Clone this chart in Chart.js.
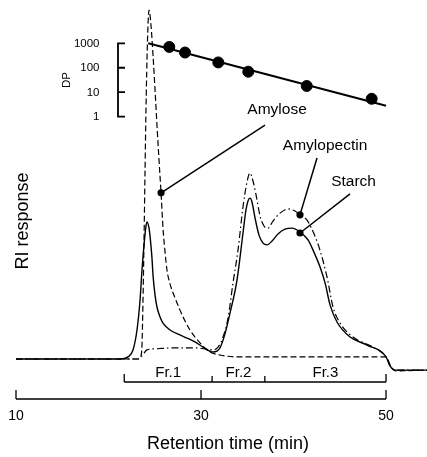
<!DOCTYPE html>
<html>
<head>
<meta charset="utf-8">
<script src="https://cdn.jsdelivr.net/npm/chart.js"></script>
<style>
  body { margin: 0; background: #fff; }
  #wrap { width: 427px; height: 457px; }
</style>
</head>
<body>
<div id="wrap"><canvas id="chart" width="427" height="457"></canvas></div>
<script>
// Starch (solid) - retention time (min) / RI response (arb.)
const starchTime = [10, 21.24, 22.11, 22.65, 23.08, 23.41, 23.62, 23.84, 24.05, 24.16, 24.38, 24.49, 24.7, 24.81, 25.03, 25.24, 25.57, 25.89, 26.65, 27.73, 28.49, 29.35, 30.22, 31.3, 32.05, 32.59, 33.14, 33.89, 34.54, 34.86, 35.08, 35.3, 35.51, 35.84, 36.27, 36.7, 37.14, 37.68, 38.32, 39.08, 39.84, 40.7, 41.57, 42.11, 42.86, 43.41, 43.95, 44.7, 46.11, 47.95, 50.0, 50.43, 50.97, 54.43];
const starchRI = [0, 0, 0.6, 2.6, 8.3, 16.9, 25.5, 32.7, 38.1, 39.3, 37.5, 35.2, 28.9, 24.1, 18.3, 14.9, 12.0, 10.3, 8.3, 6.9, 6.0, 4.9, 3.4, 2.0, 3.2, 7.2, 13.2, 22.6, 36.1, 42.7, 45.3, 46.1, 45.0, 40.4, 35.5, 33.2, 32.7, 33.8, 35.8, 37.2, 37.5, 36.4, 34.1, 31.2, 26.4, 21.8, 15.5, 10.6, 6.3, 4.0, 0.6, -2.0, -3.2, -3.2];

// Amylopectin (dash-dot)
const apTime = [10, 23.19, 23.62, 24.16, 25.03, 27.19, 29.35, 30.43, 31.3, 31.84, 32.38, 32.92, 33.46, 34.0, 34.54, 34.97, 35.3, 35.62, 35.95, 36.38, 36.81, 37.24, 37.78, 38.54, 39.41, 40.16, 40.7, 41.46, 42.32, 42.86, 43.62, 44.27, 45.03, 46.43, 48.59, 50.0, 50.54, 51.08, 54.43];
const apRI = [0, 0, 0.9, 2.6, 2.9, 3.2, 3.2, 2.9, 2.6, 3.4, 6.3, 11.7, 21.8, 31.2, 43.6, 50.7, 53.3, 51.0, 47.0, 41.0, 38.1, 37.5, 39.5, 41.8, 43.0, 42.4, 41.3, 39.8, 35.2, 31.2, 23.5, 14.9, 10.3, 6.3, 3.4, 0.6, -2.3, -3.2, -3.2];

// Amylose (dashed)
const amyTime = [10, 23.19, 23.51, 23.62, 23.73, 23.84, 23.95, 24.05, 24.16, 24.27, 24.38, 24.59, 24.81, 25.03, 25.24, 25.46, 25.68, 25.89, 26.11, 26.32, 26.65, 27.19, 27.73, 28.27, 28.81, 29.89, 30.97, 32.05, 33.89, 40.7, 50.0, 50.54, 51.08, 54.43];
const amyRI = [0, 0, 0.9, 4.0, 16.9, 34.1, 54.2, 71.3, 85.7, 95.7, 100, 95.7, 87.1, 77.1, 67.0, 57.0, 47.6, 37.5, 30.7, 25.5, 21.5, 17.5, 14.0, 10.9, 8.3, 4.6, 2.0, 1.15, 0.6, 0.6, 0.6, -2.3, -3.4, -3.2];

// DP calibration (inset)
const dpTime = [26.57, 28.27, 31.87, 35.11, 41.43, 48.45];
const dpValues = [708, 419, 165, 69, 18, 5.4];
const dpFitTime = [24.3, 50];
const dpFit = [1000, 2.8];
const dpTicks = [1, 10, 100, 1000];

// axes and fractions
const timeTicks = [10, 30, 50];
const frEdges = [21.7, 31.2, 36.9, 50];
const frLabels = ['Fr.1', 'Fr.2', 'Fr.3'];

// call-outs
const calloutNames = ['Amylose', 'Amylopectin', 'Starch'];
const calloutTime = [25.68, 40.7, 40.7];
const calloutRI = [47.6, 41.3, 36.1];
const calloutEndTime = [36.92, 42.54, 46.11];
const calloutEndRI = [67.0, 57.6, 47.3];
const calloutTextTime = [38.22, 43.41, 46.49];
const calloutTextRI = [71.3, 61.0, 50.7];

const FONT = '"Liberation Sans", Arial, Helvetica, sans-serif';

function pts(xs, ys) {
    return xs.map((t, i) => ({ x: t, y: ys[i] }));
}

const overlay = {
    id: 'overlay',
    afterDatasetsDraw(chart) {
        const ctx = chart.ctx;
        const xs = chart.scales.x;
        const ys = chart.scales.y;
        const dps = chart.scales.yDP;
        ctx.save();
        ctx.strokeStyle = '#000';
        ctx.fillStyle = '#000';
        ctx.lineWidth = 1.3;

        // time axis (bracket style, ticks up)
        const axY = 399;
        ctx.beginPath();
        ctx.moveTo(xs.getPixelForValue(timeTicks[0]), axY);
        ctx.lineTo(xs.getPixelForValue(timeTicks[timeTicks.length - 1]), axY);
        timeTicks.forEach(t => {
            const px = xs.getPixelForValue(t);
            ctx.moveTo(px, axY);
            ctx.lineTo(px, axY - 9);
        });
        ctx.stroke();
        ctx.font = '14px ' + FONT;
        ctx.textAlign = 'center';
        ctx.textBaseline = 'middle';
        timeTicks.forEach(t => {
            ctx.fillText(String(t), xs.getPixelForValue(t), 416);
        });

        // fractions
        const frY = 382;
        ctx.beginPath();
        ctx.moveTo(xs.getPixelForValue(frEdges[0]), frY);
        ctx.lineTo(xs.getPixelForValue(frEdges[frEdges.length - 1]), frY);
        frEdges.forEach((t, i) => {
            const px = xs.getPixelForValue(t);
            const h = (i === 0 || i === frEdges.length - 1) ? 8 : 6;
            ctx.moveTo(px, frY);
            ctx.lineTo(px, frY - h);
        });
        ctx.stroke();
        ctx.font = '15px ' + FONT;
        frLabels.forEach((lab, i) => {
            const mid = (xs.getPixelForValue(frEdges[i]) + xs.getPixelForValue(frEdges[i + 1])) / 2;
            ctx.fillText(lab, mid, 373);
        });

        // DP inset axis
        const dpX = 118;
        ctx.lineWidth = 1.8;
        ctx.beginPath();
        ctx.moveTo(dpX, dps.getPixelForValue(dpTicks[0]));
        ctx.lineTo(dpX, dps.getPixelForValue(dpTicks[dpTicks.length - 1]));
        dpTicks.forEach(v => {
            const py = dps.getPixelForValue(v);
            ctx.moveTo(dpX - 0.9, py);
            ctx.lineTo(dpX + 7, py);
        });
        ctx.stroke();
        ctx.font = '11.5px ' + FONT;
        ctx.textAlign = 'right';
        dpTicks.forEach(v => {
            ctx.fillText(String(v), 99.5, dps.getPixelForValue(v) + 0.5);
        });
        ctx.save();
        ctx.translate(67, 80);
        ctx.rotate(-Math.PI / 2);
        ctx.textAlign = 'center';
        ctx.fillText('DP', 0, 0);
        ctx.restore();

        // call-outs
        ctx.lineWidth = 1.5;
        ctx.font = '15.5px ' + FONT;
        ctx.textAlign = 'center';
        calloutNames.forEach((name, i) => {
            const px = xs.getPixelForValue(calloutTime[i]);
            const py = ys.getPixelForValue(calloutRI[i]);
            const ex = xs.getPixelForValue(calloutEndTime[i]);
            const ey = ys.getPixelForValue(calloutEndRI[i]);
            ctx.beginPath();
            ctx.moveTo(px, py);
            ctx.lineTo(ex, ey);
            ctx.stroke();
            ctx.beginPath();
            ctx.arc(px, py, 3.6, 0, Math.PI * 2);
            ctx.fill();
            ctx.fillText(name, xs.getPixelForValue(calloutTextTime[i]), ys.getPixelForValue(calloutTextRI[i]));
        });

        // axis titles
        ctx.font = '18px ' + FONT;
        ctx.fillText('Retention time (min)', 228, 444);
        ctx.save();
        ctx.translate(23, 221);
        ctx.rotate(-Math.PI / 2);
        ctx.font = '18px ' + FONT;
        ctx.fillText('RI response', 0, 0);
        ctx.restore();

        ctx.restore();
    }
};

new Chart(document.getElementById('chart'), {
    type: 'scatter',
    data: {
        datasets: [
            {
                label: 'Starch',
                data: pts(starchTime, starchRI),
                showLine: true,
                borderColor: '#000',
                borderWidth: 1.4,
                pointRadius: 0,
                cubicInterpolationMode: 'monotone',
                clip: false
            },
            {
                label: 'Amylopectin',
                data: pts(apTime, apRI),
                showLine: true,
                borderColor: '#000',
                borderWidth: 1.2,
                borderDash: [7, 3, 1.5, 3],
                pointRadius: 0,
                cubicInterpolationMode: 'monotone',
                clip: false
            },
            {
                label: 'Amylose',
                data: pts(amyTime, amyRI),
                showLine: true,
                borderColor: '#000',
                borderWidth: 1.2,
                borderDash: [6, 3],
                pointRadius: 0,
                cubicInterpolationMode: 'monotone',
                clip: false
            },
            {
                label: 'DP fit',
                data: pts(dpFitTime, dpFit),
                yAxisID: 'yDP',
                showLine: true,
                borderColor: '#000',
                borderWidth: 2,
                pointRadius: 0,
                clip: false
            },
            {
                label: 'DP',
                data: pts(dpTime, dpValues),
                yAxisID: 'yDP',
                backgroundColor: '#000',
                borderColor: '#000',
                pointRadius: 5.5,
                clip: false
            }
        ]
    },
    options: {
        responsive: false,
        animation: false,
        layout: { autoPadding: false, padding: { left: 16, right: 0, top: 10, bottom: 77 } },
        plugins: {
            legend: { display: false },
            tooltip: { enabled: false }
        },
        scales: {
            x: { type: 'linear', display: false, min: 10, max: 54.43 },
            y: { type: 'linear', display: false, min: -6.02, max: 100 },
            yDP: {
                type: 'logarithmic',
                display: false,
                min: Math.pow(10, -10.76),
                max: Math.pow(10, 4.36)
            }
        }
    },
    plugins: [overlay]
});
</script>
</body>
</html>
